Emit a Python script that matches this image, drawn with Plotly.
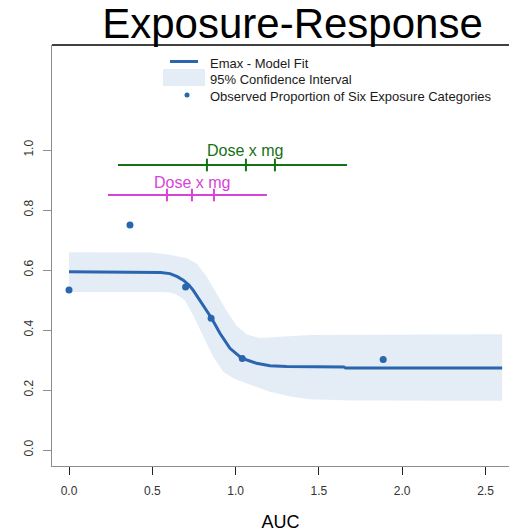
import plotly.graph_objects as go

# ---------------- data ----------------
fit_x = [0, 0.49, 0.55, 0.606, 0.65, 0.686, 0.72, 0.746, 0.776, 0.806, 0.856, 0.906,
         0.966, 1.036, 1.126, 1.206, 1.306, 1.65, 1.66, 2.6]
fit_y = [0.594, 0.594, 0.592, 0.588, 0.578, 0.566, 0.55, 0.532, 0.507, 0.478, 0.439, 0.389,
         0.339, 0.306, 0.289, 0.281, 0.278, 0.277, 0.273, 0.273]

ci_upper_x = [0, 0.49, 0.606, 0.706, 0.766, 0.826, 0.886, 0.946, 1.006, 1.067, 1.146, 1.267, 1.447, 2.6]
ci_upper_y = [0.659, 0.658, 0.651, 0.639, 0.622, 0.578, 0.522, 0.464, 0.414, 0.385, 0.373, 0.378, 0.383, 0.386]

ci_lower_x = [0, 0.56, 0.606, 0.646, 0.696, 0.746, 0.806, 0.866, 0.926, 0.986, 1.067, 1.206, 1.327, 1.447, 1.7, 2.6]
ci_lower_y = [0.527, 0.527, 0.525, 0.518, 0.498, 0.448, 0.378, 0.311, 0.261, 0.239, 0.222, 0.194, 0.178, 0.169, 0.165, 0.164]

obs_x = [0.0, 0.366, 0.70, 0.853, 1.04, 1.886]
obs_y = [0.533, 0.75, 0.543, 0.439, 0.305, 0.302]

dose_green_range = [0.294, 1.669]
dose_green_ticks = [0.828, 1.062, 1.236]
dose_green_y = 0.95
dose_magenta_range = [0.234, 1.188]
dose_magenta_ticks = [0.588, 0.738, 0.870]
dose_magenta_y = 0.85

x_ticks = [0.0, 0.5, 1.0, 1.5, 2.0, 2.5]
x_ticklabels = ["0.0", "0.5", "1.0", "1.5", "2.0", "2.5"]
y_ticks = [0.0, 0.2, 0.4, 0.6, 0.8, 1.0]
y_ticklabels = ["0.0", "0.2", "0.4", "0.6", "0.8", "1.0"]

title_text = "Exposure-Response"
x_title = "AUC"
legend_labels = ["Emax - Model Fit", "95% Confidence Interval",
                 "Observed Proportion of Six Exposure Categories"]
dose_label = "Dose x mg"

# ---------------- styles ----------------
W, H = 509, 532
ML, MR, MT, MB = 52, 0, 45, 66
BLUE = "#2a65b0"
BAND = "#e4edf6"
GREEN = "#167016"
MAGENTA = "#d744d7"
FONT = "Liberation Sans, Arial, sans-serif"

PW = W - ML - MR
PH = H - MT - MB


def px(xp):
    return (xp - ML) / PW


def py(yp):
    return (H - MB - yp) / PH


fig = go.Figure()

# confidence band (closed polygon)
fig.add_trace(go.Scatter(
    x=ci_upper_x + ci_lower_x[::-1],
    y=ci_upper_y + ci_lower_y[::-1],
    fill="toself", fillcolor=BAND, mode="lines", line=dict(width=0),
    hoverinfo="skip", showlegend=False))

# fit line
fig.add_trace(go.Scatter(x=fit_x, y=fit_y, mode="lines",
                         line=dict(color=BLUE, width=3), showlegend=False))

# observed points
fig.add_trace(go.Scatter(x=obs_x, y=obs_y, mode="markers",
                         marker=dict(color=BLUE, size=7), showlegend=False))

# dose lines
for rng, ticks, yv, col in [(dose_green_range, dose_green_ticks, dose_green_y, GREEN),
                            (dose_magenta_range, dose_magenta_ticks, dose_magenta_y, MAGENTA)]:
    fig.add_trace(go.Scatter(x=rng, y=[yv, yv], mode="lines",
                             line=dict(color=col, width=2), showlegend=False))
    fig.add_trace(go.Scatter(x=ticks, y=[yv] * len(ticks), mode="markers",
                             marker=dict(symbol="line-ns", size=9,
                                         line=dict(color=col, width=2)),
                             showlegend=False))

fig.add_annotation(x=1.056, y=1.0, text=dose_label, showarrow=False,
                   font=dict(size=16, color=GREEN, family=FONT),
                   xanchor="center", yanchor="middle")
fig.add_annotation(x=0.741, y=0.893, text=dose_label, showarrow=False,
                   font=dict(size=16, color=MAGENTA, family=FONT),
                   xanchor="center", yanchor="middle")

# manual legend
shapes = [
    dict(type="line", xref="paper", yref="paper", x0=0, x1=1, y0=1, y1=1,
         line=dict(color="black", width=1.5)),
    dict(type="line", xref="paper", yref="paper", x0=px(170), x1=px(198),
         y0=py(61.5), y1=py(61.5), line=dict(color=BLUE, width=3)),
    dict(type="rect", xref="paper", yref="paper", x0=px(163), x1=px(205),
         y0=py(86), y1=py(69), fillcolor=BAND, line=dict(width=0)),
    dict(type="circle", xref="paper", yref="paper", x0=px(184.5), x1=px(189.5),
         y0=py(97.5), y1=py(92.5), fillcolor=BLUE, line=dict(width=0)),
]
fig.update_layout(shapes=shapes)
for lbl, yc in zip(legend_labels, [63, 79.5, 96.5]):
    fig.add_annotation(xref="paper", yref="paper", x=px(208), y=py(yc), text=lbl,
                       showarrow=False, xanchor="left", yanchor="middle",
                       font=dict(size=13, color="#1a1a1a", family=FONT))

fig.update_layout(
    width=W, height=H,
    margin=dict(l=ML, r=MR, t=MT, b=MB, autoexpand=False),
    paper_bgcolor="white", plot_bgcolor="white",
    font=dict(family=FONT, color="#333333"),
    title=dict(text=title_text, x=292.5 / W, xanchor="center", xref="container",
               y=1 - 23 / H, yanchor="middle", yref="container",
               font=dict(size=42, color="black", family=FONT)),
    xaxis=dict(range=[-17 / 166.6, (W - 69) / 166.6], tickvals=x_ticks, ticktext=x_ticklabels,
               showgrid=False, zeroline=False, showline=True, linecolor="#8c8c8c", linewidth=1.2,
               ticks="outside", ticklen=8, tickcolor="#222222", tickwidth=1,
               ticklabelstandoff=5,
               tickfont=dict(size=12, color="#333333"),
               title=dict(text=x_title, font=dict(size=18, color="black"), standoff=28),
               automargin=False, fixedrange=True),
    yaxis=dict(range=[-16 / 300, 405 / 300], tickvals=y_ticks, ticktext=y_ticklabels,
               showgrid=False, zeroline=False, showline=True, linecolor="#8c8c8c", linewidth=1.2,
               ticks="outside", ticklen=8, tickcolor="#8c8c8c", tickwidth=1,
               ticklabelstandoff=5,
               tickangle=-90, tickfont=dict(size=12, color="#333333"),
               automargin=False, fixedrange=True),
    showlegend=False,
)

fig.write_html("out.html", config={"displayModeBar": False},
               post_script="document.body.style.margin='0px';document.body.style.padding='0px';")
